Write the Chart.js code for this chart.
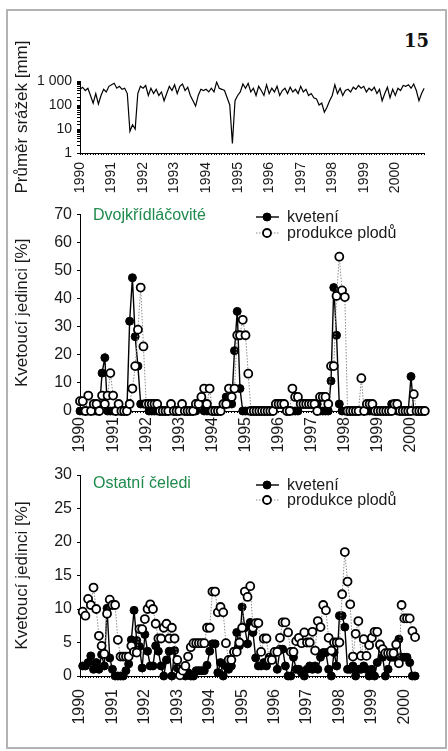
<!DOCTYPE html>
<html>
<head>
<meta charset="utf-8">
<script src="https://cdn.jsdelivr.net/npm/chart.js@4.4.1/dist/chart.umd.min.js"></script>
<style>
  body { margin: 0; background: #fff; width: 448px; height: 751px; overflow: hidden; position: relative; }
  #frame { position: absolute; left: 6px; top: 9px; width: 437px; height: 736px; border: 2px solid #b3b3b3; }
  canvas { position: absolute; left: 0; }
  #num { position: absolute; left: 404px; top: 30px; font: bold 18px "DejaVu Serif", serif; color: #111; }
</style>
</head>
<body>
<div id="frame"></div>
<div id="num">15</div>
<canvas id="top" width="448" height="185" style="top:15px"></canvas>
<canvas id="mid" width="448" height="260" style="top:200px"></canvas>
<canvas id="bot" width="448" height="285" style="top:460px"></canvas>
<script>
// monthly precipitation, Jan 1990 - Dec 2000 (mm, log axis)
const precip = [
  450, 550, 400, 500, 250, 120, 300, 110, 250, 450, 350, 600,
  700, 800, 500, 600, 450, 500, 300, 8, 15, 10, 300, 600,
  500, 650, 250, 500, 300, 450, 250, 350, 150, 300, 600, 400,
  700, 300, 600, 750, 400, 550, 250, 150, 90, 250, 450, 400,
  450, 350, 500, 350, 900, 500, 450, 400, 200, 100, 2.5, 150,
  250, 350, 750, 500, 800, 350, 500, 250, 600, 400, 250, 700,
  300, 500, 350, 600, 250, 400, 500, 300, 550, 350, 450, 300,
  600, 350, 450, 250, 300, 200, 180, 100, 120, 50, 80, 150,
  250, 700, 300, 500, 250, 400, 450, 350, 550, 450, 650, 500,
  600, 350, 500, 400, 550, 300, 450, 150, 300, 550, 200, 450,
  250, 500, 400, 650, 600, 700, 500, 750, 400, 150, 300, 500
];

// Dvojkřídláčovité, Jan 1990 - Jun 2000 (%)
const kvet1 = [
  0, 0, 0, 0, 0, 0, 0, 0, 13.5, 19, 0, 0,
  0, 0, 0, 0, 0, 0, 32, 47.5, 26.5, 16, 2.5, 2.5,
  2.5, 0, 0, 0, 0, 0, 0, 0, 0, 0, 0, 0,
  0, 0, 0, 0, 0, 0, 0, 2.5, 2.5, 0, 0, 0,
  0, 0, 0, 0, 2.5, 5, 2.5, 2.5, 21.5, 35.5, 8, 0,
  0, 0, 0, 0, 0, 0, 0, 0, 0, 0, 0, 2.5,
  2.5, 2.5, 2.5, 0, 0, 0, 0, 0, 2.5, 2.5, 2.5, 2.5,
  2.5, 2.5, 2.5, 0, 0, 0, 0, 10.7, 44, 27, 2.5, 0,
  0, 0, 0, 0, 0, 0, 0, 0, 0, 0, 0, 0,
  0, 0, 0, 0, 0, 2.5, 2.5, 0, 0, 0, 0, 0,
  12.3, 0, 0, 0, 0, 0
];
const plod1 = [
  3.5, 3.5, 0, 5.5, 0, 2.5, 2.5, 0, 5.5, 2.5, 5.5, 13.5,
  5.5, 0, 2.5, 0, 0, 0, 2.5, 8, 16, 29, 44, 23,
  2.5, 2.5, 2.5, 2.5, 2.5, 0, 0, 0, 0, 2.5, 0, 0,
  0, 2.5, 0, 0, 0, 0, 2.5, 2.5, 5, 8, 2.5, 8,
  0, 0, 0, 0, 2.5, 2.5, 8, 5, 8, 27, 27, 32.5,
  27, 13.3, 0, 0, 0, 0, 0, 0, 0, 0, 0, 2.5,
  2.5, 2.5, 2.5, 0, 0, 8, 5, 5, 2.5, 2.5, 2.5, 2.5,
  2.5, 2.5, 0, 5, 5, 5, 2.5, 16, 16, 41, 55, 43,
  40.6, 0, 0, 0, 0, 0, 11.7, 0, 2.5, 2.5, 2.5, 0,
  0, 0, 0, 0, 0, 0, 2.5, 2.5, 0, 0, 0, 0,
  0, 6, 0, 0, 0, 0
];

// Ostatní čeledi, Jan 1990 - Jun 2000 (%)
const kvet2 = [
  null, 1.5, 1.5, 2.0, 3.0, 1.0, 2.0, 1.0, 3.2, 1.5, 10.1, 2.7,
  1.0, 0, 0, 0, 0, 0.8, 1.8, 5.4, 9.8, 5.3, 4.4, 1.2,
  6.2, 3.7, 1.5, 1.5, 4.5, 3.7, 1.5, 0, 2.4, 3.7, 0, 3.8,
  1.2, 0.8, 0.3, 0, 0.5, 0, 0, 0.8, 0.8, 0.8, 0.8, 1.6,
  3.7, 4.8, 4.8, 0.5, 2.0, 0, 1.5, 1.0, 1.5, 3.7, 6.5, 4.5,
  10.3, 7.2, 4.8, 8.0, 6.5, 2.7, 1.5, 1.5, 2.0, 1.5, 2.8, 2.8,
  3.5, 1.0, 4.0, 4.0, 1.5, 0, 0, 2.8, 1.0, 1.0, 0.5, 0,
  1.0, 1.5, 1.0, 1.5, 1.0, 2.8, 3.5, 3.5, 1.0, 0, 3.5, 1.5,
  9.0, 9.0, 7.3, 1.0, 1.0, 1.5, 0, 1.0, 1.0, 1.5, 1.0, 0,
  1.0, 0, 2.0, 4.5, 2.8, 0, 1.0, 2.8, 2.8, 2.8, 5.5, 2.8,
  2.8, 2.8, 2.0, 0, 0, null
];
const plod2 = [
  null, 9.6, 9.0, 11.5, 10.6, 13.2, 10.0, 6.0, 4.5, 3.3, 9.3, 11.4,
  10.6, 10.6, 5.4, 2.9, 2.9, 2.9, 2.9, 4.5, 3.6, 3.5, 7.0, 7.0,
  8.5, 10.0, 10.7, 10.0, 7.8, 5.6, 5.6, 7.2, 7.8, 5.6, 7.2, 5.6,
  2.4, 0.1, 0.8, 1.5, 2.9, 4.3, 4.9, 4.9, 4.9, 4.9, 4.9, 7.2,
  7.2, 12.6, 12.6, 9.5, 10.3, 9.5, 4.9, 2.4, 2.4, 3.6, 3.6, 5.0,
  7.2, 12.6, 11.8, 13.4, 7.2, 7.9, 7.9, 3.6, 5.6, 5.6, 2.4, 2.4,
  3.6, 3.6, 5.7, 8.0, 8.0, 6.5, 3.6, 3.6, 5.2, 5.7, 4.9, 6.5,
  5.0, 5.0, 6.6, 3.8, 8.2, 7.3, 10.6, 9.8, 5.7, 3.8, 5.0, 5.0,
  5.0, 12.2, 18.5, 14.1, 10.7, 2.9, 6.3, 8.2, 3.0, 5.5, 3.0, 4.6,
  5.7, 6.6, 6.6, 4.7, 4.0, 3.4, 3.4, 3.4, 3.4, 4.7, 1.9, 10.6,
  8.6, 8.6, 8.6, 6.7, 5.8, null
];

const FONT = '"Liberation Sans", Arial, sans-serif';
const INK = '#1a1a1a';
const GREEN = '#1e8a4c';

function monthLabels(n) {
  const out = [];
  for (let i = 0; i < n; i++) {
    out.push((1990 + Math.floor(i / 12)) + '-' + String(i % 12 + 1).padStart(2, '0'));
  }
  return out;
}
const monthsTop = monthLabels(precip.length);
const months = monthLabels(kvet1.length);

function xAxis(h, size, pad) {
  return {
    type: 'category',
    offset: false,
    grid: { display: true, drawOnChartArea: false, tickLength: 2, color: '#000', lineWidth: 1 },
    border: { display: true, color: '#000', width: 1 },
    ticks: {
      autoSkip: false, maxRotation: 90, minRotation: 90, padding: pad, color: INK,
      font: { family: FONT, size: size },
      callback(v) {
        const l = this.getLabelForValue(v);
        return l.endsWith('-01') ? l.slice(0, 4) : '';
      }
    },
    afterFit(s) { s.height = h; }
  };
}

function yAxis(title, max, step) {
  return {
    min: 0, max: max,
    grid: { display: true, drawOnChartArea: false, tickLength: 3, color: '#000' },
    border: { display: true, color: '#000', width: 1 },
    ticks: { stepSize: step, padding: 5, color: INK, font: { family: FONT, size: 16 } },
    title: { display: true, text: title, color: INK, font: { family: FONT, size: 17 }, padding: { top: 12 } },
    afterFit(s) { s.width = 80; }
  };
}

// panel name in green plus hand-placed legend inside the plot
const panelText = {
  id: 'panelText',
  afterDraw(chart, args, o) {
    if (!o.label) return;
    const ctx = chart.ctx;
    ctx.save();
    ctx.font = '16px ' + FONT;
    ctx.fillStyle = GREEN;
    ctx.textBaseline = 'alphabetic';
    ctx.fillText(o.label, 93, o.labelY);
    chart.data.datasets.forEach((ds, k) => {
      const y = o.legendY + k * o.legendGap;
      ctx.beginPath();
      ctx.strokeStyle = ds.borderColor;
      ctx.lineWidth = ds.borderWidth;
      ctx.setLineDash(ds.borderDash || []);
      ctx.moveTo(256, y);
      ctx.lineTo(279, y);
      ctx.stroke();
      ctx.setLineDash([]);
      ctx.beginPath();
      ctx.arc(267, y, 4, 0, Math.PI * 2);
      ctx.fillStyle = ds.pointBackgroundColor;
      ctx.fill();
      ctx.lineWidth = ds.pointBorderWidth;
      ctx.strokeStyle = ds.pointBorderColor;
      ctx.stroke();
      ctx.fillStyle = INK;
      ctx.textBaseline = 'middle';
      ctx.font = '16px ' + FONT;
      ctx.fillText(ds.label, 287, y + 1);
    });
    ctx.restore();
  }
};

function seriesSets(kv, pl) {
  return [{
    label: 'kvetení',
    data: kv,
    borderColor: '#000',
    borderWidth: 1.4,
    pointRadius: 4,
    pointBackgroundColor: '#000',
    pointBorderColor: '#000',
    pointBorderWidth: 1,
    tension: 0,
    clip: false,
    order: 1
  }, {
    label: 'produkce plodů',
    data: pl,
    borderColor: '#8a8a8a',
    borderWidth: 1,
    borderDash: [1.5, 1.5],
    pointRadius: 4,
    pointBackgroundColor: '#fff',
    pointBorderColor: '#000',
    pointBorderWidth: 1.8,
    tension: 0,
    clip: false,
    order: 0
  }];
}

const common = {
  responsive: false,
  animation: false,
  events: [],
  plugins: { legend: { display: false }, tooltip: { enabled: false } }
};

new Chart(document.getElementById('top'), {
  type: 'line',
  data: {
    labels: monthsTop,
    datasets: [{ data: precip, borderColor: '#000', borderWidth: 1.2, pointRadius: 0, tension: 0 }]
  },
  options: {
    ...common,
    layout: { padding: { left: 0, right: 13, top: 66, bottom: 0 } },
    scales: {
      x: xAxis(47, 14, 7),
      y: {
        type: 'logarithmic', min: 1, max: 1000,
        grid: { display: true, drawOnChartArea: false, tickLength: 3, color: '#000' },
        border: { display: true, color: '#000', width: 1 },
        ticks: {
          autoSkip: false, padding: 5, color: INK, font: { family: FONT, size: 14 },
          callback(v) {
            if (v === 1000) return '1 000';
            return [1, 10, 100].includes(v) ? String(v) : '';
          }
        },
        title: { display: true, text: 'Průměr srážek [mm]', color: INK, font: { family: FONT, size: 17 }, padding: { top: 12 } },
        afterFit(s) { s.width = 80; }
      }
    }
  }
});

new Chart(document.getElementById('mid'), {
  type: 'line',
  data: { labels: months, datasets: seriesSets(kvet1, plod1) },
  options: {
    ...common,
    layout: { padding: { left: 0, right: 8, top: 8, bottom: 0 } },
    plugins: {
      ...common.plugins,
      panelText: { label: 'Dvojkřídláčovité', labelY: 20, legendY: 17, legendGap: 16 }
    },
    scales: { x: xAxis(49, 16, 4), y: yAxis('Kvetoucí jedinci [%]', 70, 10) }
  },
  plugins: [panelText]
});

new Chart(document.getElementById('bot'), {
  type: 'line',
  data: { labels: months, datasets: seriesSets(kvet2, plod2) },
  options: {
    ...common,
    layout: { padding: { left: 0, right: 8, top: 15, bottom: 0 } },
    plugins: {
      ...common.plugins,
      panelText: { label: 'Ostatní čeledi', labelY: 28, legendY: 25, legendGap: 15 }
    },
    scales: { x: xAxis(69, 16, 11), y: yAxis('Kvetoucí jedinci [%]', 30, 5) }
  },
  plugins: [panelText]
});
</script>
</body>
</html>
